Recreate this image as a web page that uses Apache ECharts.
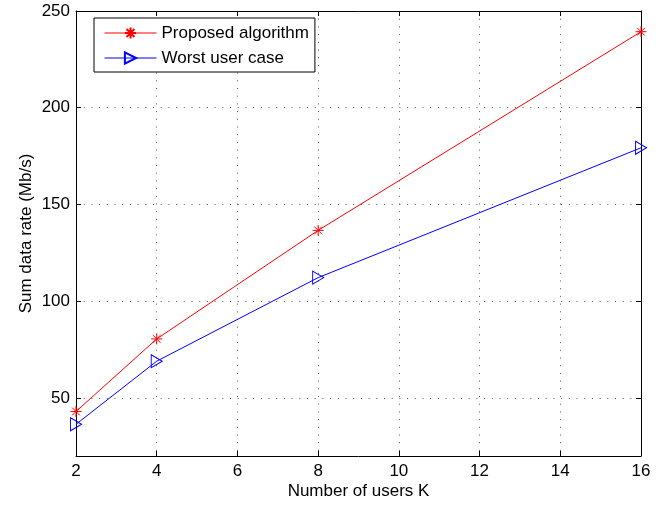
<!DOCTYPE html>
<html>
<head>
<meta charset="utf-8">
<script src="https://cdn.jsdelivr.net/npm/echarts@6/dist/echarts.min.js"></script>
<style>
html,body{margin:0;padding:0;background:#fff;}
#chart{width:667px;height:506px;}
</style>
</head>
<body>
<div id="chart"></div>
<script>
const users = [2, 4, 8, 16];
const proposed = [43, 80.5, 136.6, 239.3];
const worstUser = [36.4, 69, 112.2, 179.3];
const xTicks = [2, 4, 6, 8, 10, 12, 14, 16];
const yTicks = [50, 100, 150, 200, 250];

const FONT = 'Liberation Sans, Arial, Helvetica, sans-serif';
const chart = echarts.init(document.getElementById('chart'));

const starPath = 'path://M0,-1L0,1M-1,0L1,0M-0.7,-0.7L0.7,0.7M-0.7,0.7L0.7,-0.7';
const triPath = 'path://M0,0L1,0.5L0,1Z';

const gridLine = { show: true, lineStyle: { color: '#555', width: 1, type: [1, 6.7] } };

chart.setOption({
  animation: false,
  backgroundColor: '#fff',
  grid: { left: 76, right: 26, top: 11, bottom: 50, containLabel: false },
  legend: {
    orient: 'vertical',
    left: 94,
    top: 18,
    padding: [5, 6, 4, 10],
    itemWidth: 52,
    itemHeight: 14,
    itemGap: 5,
    borderColor: '#000',
    borderWidth: 1,
    backgroundColor: '#fff',
    lineStyle: { width: 1 },
    textStyle: { fontFamily: FONT, fontSize: 17, color: '#000', lineHeight: 20 },
    data: ['Proposed algorithm', 'Worst user case']
  },
  xAxis: [{
    type: 'value',
    min: 2, max: 16, interval: 2,
    name: 'Number of users K',
    nameLocation: 'middle',
    nameGap: 27,
    nameMoveOverlap: false,
    nameTextStyle: { fontFamily: FONT, fontSize: 17, color: '#000' },
    axisLine: { show: true, onZero: false, lineStyle: { color: '#000', width: 1 } },
    axisTick: { show: true, inside: true, length: 5, lineStyle: { color: '#000' }, customValues: xTicks },
    axisLabel: { margin: 7, fontFamily: FONT, fontSize: 17, color: '#000', customValues: xTicks },
    splitLine: gridLine
  }, {
    type: 'value',
    position: 'top',
    min: 2, max: 16, interval: 2,
    axisLine: { show: true, onZero: false, lineStyle: { color: '#000', width: 1 } },
    axisTick: { show: true, inside: true, length: 5, lineStyle: { color: '#000' }, customValues: xTicks },
    axisLabel: { show: false },
    splitLine: { show: false }
  }],
  yAxis: [{
    type: 'value',
    min: 20, max: 250,
    name: 'Sum data rate (Mb/s)',
    nameLocation: 'middle',
    nameGap: 41,
    nameMoveOverlap: false,
    nameTextStyle: { fontFamily: FONT, fontSize: 17, color: '#000' },
    axisLine: { show: true, onZero: false, lineStyle: { color: '#000', width: 1 } },
    axisTick: { show: true, inside: true, length: 5, lineStyle: { color: '#000' }, customValues: yTicks },
    axisLabel: { margin: 6, fontFamily: FONT, fontSize: 17, color: '#000', customValues: yTicks },
    splitLine: gridLine
  }, {
    type: 'value',
    position: 'right',
    min: 20, max: 250,
    axisLine: { show: true, onZero: false, lineStyle: { color: '#000', width: 1 } },
    axisTick: { show: true, inside: true, length: 5, lineStyle: { color: '#000' }, customValues: yTicks },
    axisLabel: { show: false },
    splitLine: { show: false }
  }],
  series: [{
    name: 'Proposed algorithm',
    type: 'line',
    xAxisIndex: 0, yAxisIndex: 0,
    data: users.map((u, i) => [u, proposed[i]]),
    symbol: starPath,
    symbolSize: 11,
    lineStyle: { color: '#ff0000', width: 1 },
    itemStyle: { color: 'none', borderColor: '#ff0000', borderWidth: 1 },
    emphasis: { disabled: true }
  }, {
    name: 'Worst user case',
    type: 'line',
    xAxisIndex: 0, yAxisIndex: 0,
    data: users.map((u, i) => [u, worstUser[i]]),
    symbol: triPath,
    symbolSize: [11, 13],
    lineStyle: { color: '#0000ff', width: 1 },
    itemStyle: { color: 'none', borderColor: '#0000ff', borderWidth: 1 },
    emphasis: { disabled: true }
  }]
});
</script>
</body>
</html>
